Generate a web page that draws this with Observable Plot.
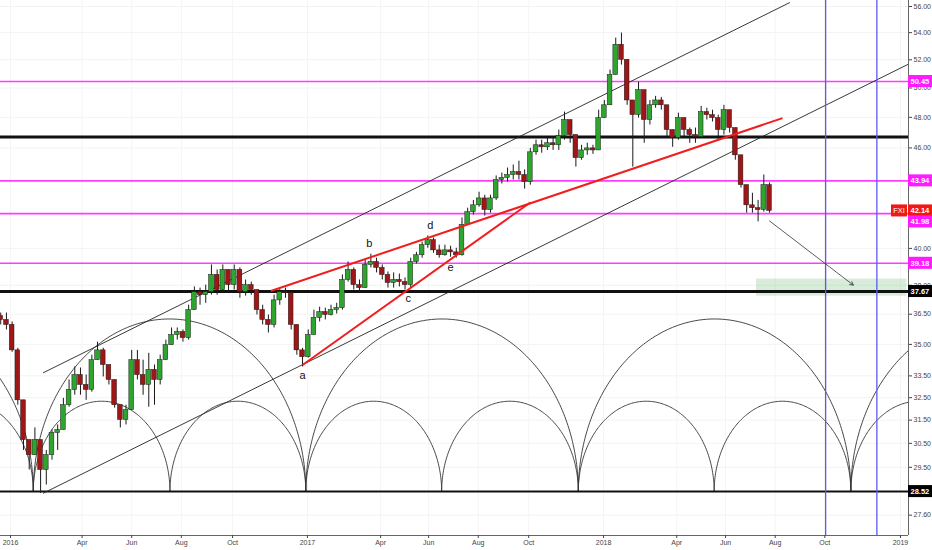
<!DOCTYPE html>
<html><head><meta charset="utf-8">
<script src="https://cdn.jsdelivr.net/npm/d3@7"></script>
<script src="https://cdn.jsdelivr.net/npm/@observablehq/plot@0.6"></script>
<style>body{margin:0;background:#fff;} svg{display:block}</style>
</head><body><div id="chart"></div>
<script>
// ---- Weekly candles (FXI) ----
const firstWeek = "2015-12-23";
const firstOpen = 36.40;
const closes = [36.21,35.96,34.71,32.38,30.64,30.00,30.64,29.39,30.00,30.94,
31.07,32.16,32.85,33.54,33.08,32.85,34.24,34.71,34.01,33.31,
32.16,31.51,31.94,34.24,33.54,33.08,33.78,33.31,34.24,34.96,
35.46,35.61,35.31,36.71,37.64,37.48,37.64,38.55,37.75,38.82,
38.01,38.82,37.64,38.01,37.75,36.71,36.21,35.96,37.21,37.64,
37.59,35.96,34.71,34.38,35.46,36.31,36.61,36.46,36.71,36.81,
38.28,38.82,38.01,37.85,39.09,39.25,38.93,38.55,38.12,38.28,
38.17,38.01,39.25,39.62,40.18,40.46,39.89,39.62,39.89,39.78,
39.62,41.33,42.07,42.47,42.88,42.19,42.88,43.99,44.12,44.30,
44.48,44.30,43.87,45.72,46.17,46.04,46.30,46.17,46.76,47.82,
46.83,45.35,45.84,45.97,45.84,47.95,48.81,50.91,53.10,52.00,
49.14,48.15,49.85,47.82,48.81,49.14,48.81,47.16,46.63,47.95,
47.16,46.83,46.70,48.35,48.15,47.95,47.16,48.48,47.29,45.53,
43.68,42.47,42.30,42.19,43.68,42.14];
const highs = [36.56,36.56,36.11,34.81,32.38,30.64,31.16,30.64,30.20,31.07,
31.29,32.47,33.31,33.92,33.87,33.54,34.48,35.11,34.81,34.01,
33.31,32.16,32.16,34.71,34.71,34.24,34.57,34.01,34.48,35.21,
35.81,35.81,35.71,36.96,37.91,37.85,38.01,39.09,38.82,39.09,
38.82,39.09,38.93,38.28,38.17,37.75,36.96,36.46,37.48,37.80,
37.85,37.59,35.81,34.81,35.71,36.71,36.86,36.81,36.96,37.06,
38.55,39.25,38.93,38.28,39.35,39.68,39.46,39.09,38.71,38.66,
38.60,38.39,39.46,39.78,40.35,40.70,40.58,40.18,40.18,40.12,
40.01,41.73,42.30,42.76,43.25,43.07,43.07,44.24,44.42,44.73,
44.92,45.16,44.61,45.97,46.50,46.50,46.63,46.63,47.16,48.35,
47.82,46.83,46.17,46.30,46.17,48.48,49.14,51.26,53.59,53.97,
51.83,49.14,50.41,49.85,49.14,49.42,49.35,48.81,47.16,48.28,
47.69,47.29,47.29,48.74,48.61,48.48,48.15,48.81,48.48,47.16,
45.53,43.50,43.19,42.76,44.30,43.81];
const lows = [35.96,35.71,34.62,32.16,30.20,29.39,30.00,28.45,28.78,29.79,
30.20,31.07,32.07,32.61,32.61,32.38,32.75,34.24,33.45,33.08,
32.03,31.16,31.29,31.94,33.31,32.61,32.07,32.16,33.08,34.24,
34.96,35.21,35.11,35.21,36.71,36.96,37.06,37.48,37.48,37.64,
37.64,37.75,37.32,37.43,37.48,36.46,35.96,35.56,35.81,36.96,
37.32,35.71,34.48,33.92,34.34,35.96,36.11,36.21,36.41,36.51,
36.71,38.17,37.75,37.59,37.85,38.93,38.66,38.28,37.85,37.85,
37.91,37.75,37.85,39.14,39.46,40.01,39.73,39.46,39.57,39.51,
39.46,39.57,41.33,41.90,42.36,41.84,42.01,42.76,43.75,43.87,
43.99,43.99,43.44,43.68,45.53,45.66,45.84,45.84,45.84,46.50,
46.30,44.79,45.22,45.53,45.59,45.84,48.35,48.81,50.91,51.62,
48.81,44.79,47.95,46.30,47.49,48.61,48.48,46.70,46.04,46.50,
46.70,46.30,46.30,46.70,47.82,47.69,46.50,46.83,46.96,45.22,
43.50,42.01,42.01,41.50,42.07,42.01];

// ---- Levels, ticks, drawings ----
const magentaLevels = [50.45, 43.94, 41.98, 39.18];
const thickLevels = [46.70, 37.67];
const thinLevels = [28.52];
const lastPrice = 42.14;
const symbol = "FXI";
const yTicks = [56,54,52,50,48,46,40,38,36.5,35,33.5,32.5,31.5,30.5,29.5,27.6];
const xTickDates = ["2016-01-04","2016-04-01","2016-06-01","2016-08-01","2016-10-03","2017-01-03","2017-04-03","2017-06-01","2017-08-01","2017-10-02","2018-01-02","2018-04-02","2018-06-01","2018-08-01","2018-10-01","2019-01-02"];
const xTickLabels = ["2016","Apr","Jun","Aug","Oct","2017","Apr","Jun","Aug","Oct","2018","Apr","Jun","Aug","Oct","2019"];
const cycleCusps = ["2015-03-03","2015-08-18","2016-02-01","2016-07-18","2017-01-01","2017-06-17","2017-12-02","2018-05-18","2018-11-02","2019-04-18","2019-10-02"];
const arcBase = 28.52, bigArcPeak = 36.26, smallArcPeak = 32.34;
const channelLines = [
  {x1:"2016-02-13", y1:33.64, x2:"2018-08-19", y2:56.31},
  {x1:"2016-02-13", y1:28.45, x2:"2019-01-12", y2:51.69}
];
const redLines = [
  {x1:"2016-12-28", y1:34.01, x2:"2017-10-04", y2:42.64},
  {x1:"2016-11-19", y1:37.70, x2:"2018-08-10", y2:47.95}
];
const waveLabels = ["a","b","c","d","e"];
const waveDates = ["2016-12-28","2017-03-20","2017-05-07","2017-06-03","2017-06-28"];
const wavePrices = [33.54,40.29,37.32,41.27,38.98];
const cycleDates = ["2018-10-02","2018-12-04"];
const arrowLine = {x1:"2018-07-25", y1:41.56, x2:"2018-11-05", y2:38.01};
const targetZone = {x1:"2018-07-09", x2:"2019-01-10", y1:37.43, y2:38.33};
const xDomain = ["2015-12-22T17:00Z","2019-01-11T21:00Z"];
const yDomain = [26.83, 56.47];

// ---- build tables ----
const D = s => new Date(s);
const day = 864e5;
const bars = closes.map((c,i) => {
  const o = i ? closes[i-1] : firstOpen;
  const date = new Date(Date.parse(firstWeek) + i*7*day);
  return {date, x1:new Date(+date-2.9*day), x2:new Date(+date+2.9*day), open:o, close:c,
          high:Math.max(highs[i],o,c), low:Math.min(lows[i],o,c)};
});
const arcPts = [];
function addArc(a, b, peak, id){
  const t0 = +D(a), t1 = +D(b), c = (t0+t1)/2, h = (t1-t0)/2;
  const lb = Math.log(arcBase), lp = Math.log(peak);
  for (let k=0;k<=160;k++){
    const t = Math.PI*k/160;
    arcPts.push({id, x:new Date(c - h*Math.cos(t)), y:Math.exp(lb + (lp-lb)*Math.sin(t))});
  }
}
for (let i=0;i<cycleCusps.length-1;i++) addArc(cycleCusps[i], cycleCusps[i+1], smallArcPeak, "s"+i);
for (let i=0;i+2<cycleCusps.length;i+=2) addArc(cycleCusps[i], cycleCusps[i+2], bigArcPeak, "b"+i);
const lbl = new Map(xTickDates.map((d,i)=>[+D(d), xTickLabels[i]]));
const conv = l => ({x1:D(l.x1), x2:D(l.x2), y1:l.y1, y2:l.y2});
const waves = waveLabels.map((t,i)=>({t, x:D(waveDates[i]), y:wavePrices[i]}));

const chart = Plot.plot({
  width: 932, height: 550,
  marginLeft: 0, marginRight: 24, marginTop: 0, marginBottom: 15,
  style: {fontFamily: "'Liberation Sans', Arial, sans-serif", fontSize: "7px", background: "#fff"},
  x: {type: "utc", domain: xDomain.map(D)},
  y: {type: "log", domain: yDomain},
  marks: [
    Plot.ruleY(yTicks, {stroke: "#f3f3f3", strokeWidth: 1}),
    Plot.ruleX(xTickDates.map(D), {stroke: "#f5f5f5", strokeWidth: 1}),
    Plot.rect([conv(targetZone)], {x1:"x1", x2:"x2", y1:"y1", y2:"y2", fill: "#4caf50", fillOpacity: 0.22}),
    Plot.line(arcPts, {x:"x", y:"y", z:"id", stroke:"#333", strokeWidth: 0.9, clip: true}),
    Plot.ruleY(magentaLevels, {stroke: "#ff3dff", strokeWidth: 1.6}),
    Plot.ruleY(thickLevels, {stroke: "#111", strokeWidth: 3}),
    Plot.ruleY(thinLevels, {stroke: "#111", strokeWidth: 2}),
    Plot.link(channelLines.map(conv), {x1:"x1", y1:"y1", x2:"x2", y2:"y2", stroke:"#222", strokeWidth: 0.9, clip: true}),
    Plot.ruleX(bars, {x:"date", y1:"low", y2:"high", stroke:"#1a1a1a", strokeWidth: 1}),
    Plot.rect(bars, {x1:"x1", x2:"x2", y1:"open", y2:"close",
      fill: d => d.close >= d.open ? "#2ea52e" : "#9e1616", stroke:"#1a1a1a", strokeWidth: 0.5}),
    Plot.link(redLines.map(conv), {x1:"x1", y1:"y1", x2:"x2", y2:"y2", stroke:"#f01e1e", strokeWidth: 2}),
    Plot.ruleX(cycleDates.map(D), {stroke: "#5a5af2", strokeWidth: 1.3}),
    Plot.arrow([conv(arrowLine)], {x1:"x1", y1:"y1", x2:"x2", y2:"y2", stroke:"#333", strokeWidth: 0.8, headLength: 7}),
    Plot.text(waves, {x:"x", y:"y", text:"t", fontSize: 11, fill:"#111", fontWeight: 500}),
    Plot.ruleX([D(xDomain[1])], {stroke:"#666", strokeWidth: 1}),
    Plot.ruleY([yDomain[0]], {stroke:"#666", strokeWidth: 1}),
    Plot.axisY({anchor:"right", ticks: yTicks, tickFormat: d => d.toFixed(2), tickSize: 3, tickPadding: 2, fontSize: 7, color: "#444"}),
    Plot.axisX({anchor:"bottom", ticks: xTickDates.map(D), tickFormat: d => lbl.get(+d), tickSize: 3, tickPadding: 2, fontSize: 7, color: "#444"})
  ]
});
document.getElementById("chart").appendChild(chart);

// price tags on the right axis, placed through the chart's own y scale
const ys = chart.scale("y"), xr = chart.scale("x").range[1];
const tags = [
  ...magentaLevels.map(v => ({v, fill:"#ff1aff"})),
  {v:lastPrice, fill:"#f21818", last:true},
  ...thickLevels.filter(v => v < 40).map(v => ({v, fill:"#000"})),
  ...thinLevels.map(v => ({v, fill:"#000"}))
].map(t => ({...t, cy: ys.apply(t.v)})).sort((a,b) => a.cy - b.cy || (b.last?1:0)-(a.last?1:0));
for (let i=1;i<tags.length;i++) if (tags[i].cy < tags[i-1].cy + 11) tags[i].cy = tags[i-1].cy + 11;
const g = d3.select(chart).append("g")
  .attr("font-family","'Liberation Sans', Arial, sans-serif")
  .attr("font-size",7.5).attr("font-weight","bold").attr("text-anchor","start");
for (const t of tags) {
  g.append("rect").attr("x", xr).attr("y", t.cy-6).attr("width", 24).attr("height", 12).attr("fill", t.fill);
  g.append("text").attr("x", xr+2.5).attr("y", t.cy+2.8).attr("fill","#fff").attr("text-anchor","start").text(t.v.toFixed(2));
  if (t.last) {
    g.append("rect").attr("x", xr-17).attr("y", t.cy-6).attr("width", 16).attr("height", 12).attr("fill", t.fill);
    g.append("text").attr("x", xr-9).attr("y", t.cy+2.8).attr("text-anchor","middle").attr("fill","#fff").attr("font-weight","normal").text(symbol);
  }
}
</script></body></html>
